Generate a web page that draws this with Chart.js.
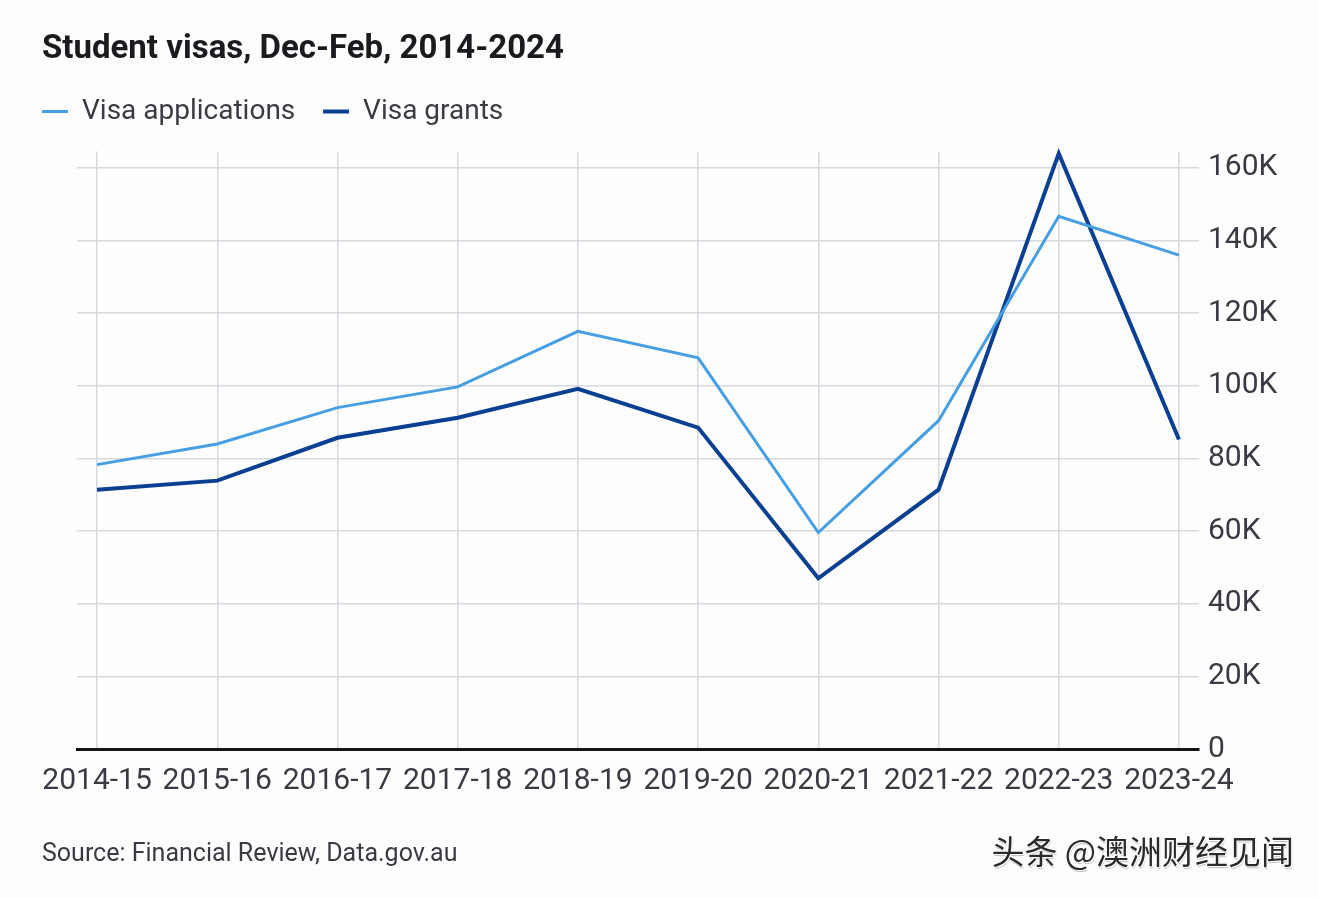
<!DOCTYPE html>
<html>
<head>
<meta charset="utf-8">
<script src="https://cdn.jsdelivr.net/npm/chart.js@4.4.1/dist/chart.umd.min.js"></script>
<style>
  html, body { margin: 0; padding: 0; background: #fdfdfe; }
  #wrap { position: relative; width: 1318px; height: 898px; }
  #mark {
    position: absolute; right: 24px; top: 826px;
    font-family: "Noto Sans CJK SC", sans-serif; font-size: 33px; color: #2a2a2a;
    text-shadow: 1px 1px 0 #fff, -1px -1px 0 #fff, 1px 2px 1px #bbb;
  }
</style>
</head>
<body>
<div id="wrap">
  <canvas id="visaChart" width="1318" height="898"></canvas>
  <div id="mark">头条 @澳洲财经见闻</div>
</div>
<script>
// data
const years = ['2014-15', '2015-16', '2016-17', '2017-18', '2018-19', '2019-20', '2020-21', '2021-22', '2022-23', '2023-24'];
const applications = [78300, 84000, 94000, 99700, 115000, 107700, 59600, 90400, 146700, 136000];
const grants = [71400, 73900, 85700, 91200, 99200, 88500, 47000, 71400, 164000, 85200];
const yTicks = [0, 20000, 40000, 60000, 80000, 100000, 120000, 140000, 160000];

const gridCol = '#d6d9df';
const textCol = '#3d3944';

const toPoints = arr => arr.map((v, i) => ({ x: i, y: v }));

// extra room under the legend
const legendGap = {
    id: 'legendGap',
    beforeInit(chart) {
        const fit = chart.legend.fit;
        chart.legend.fit = function () {
            fit.bind(chart.legend)();
            this.height += 16;
        };
    }
};

const ctx = document.getElementById('visaChart').getContext('2d');
new Chart(ctx, {
    type: 'line',
    data: {
        datasets: [{
            label: 'Visa applications',
            data: toPoints(applications),
            yAxisID: 'y',
            borderColor: '#479ee2',
            borderWidth: 3,
            pointRadius: 0,
            tension: 0,
            clip: false
        }, {
            label: 'Visa grants',
            data: toPoints(grants),
            yAxisID: 'y',
            borderColor: '#0b3f91',
            borderWidth: 4,
            pointRadius: 0,
            tension: 0,
            clip: false
        }]
    },
    plugins: [legendGap],
    options: {
        responsive: false,
        animation: false,
        devicePixelRatio: 1,
        layout: { padding: { left: 42, right: 0, top: 30, bottom: 28 } },
        plugins: {
            title: {
                display: true,
                text: 'Student visas, Dec-Feb, 2014-2024',
                align: 'start',
                color: '#1b1b1f',
                font: { family: 'Roboto', size: 33, weight: 'bold' },
                padding: { top: 0, bottom: 28 }
            },
            legend: {
                align: 'start',
                labels: {
                    usePointStyle: true,
                    pointStyle: 'line',
                    pointStyleWidth: 26,
                    padding: 0,
                    color: textCol,
                    font: { family: 'Roboto', size: 28 },
                    generateLabels: chart => {
                        const items = Chart.defaults.plugins.legend.labels.generateLabels(chart);
                        items.forEach((it, i) => { if (i < items.length - 1) it.text += '    '; });
                        return items;
                    }
                }
            },
            subtitle: {
                display: true,
                position: 'bottom',
                align: 'start',
                text: 'Source: Financial Review, Data.gov.au',
                color: textCol,
                font: { family: 'Roboto', size: 25 },
                padding: { top: 27, bottom: 0 }
            },
            tooltip: { enabled: false }
        },
        scales: {
            x: {
                type: 'linear',
                min: -1 / 6,
                max: 9 + 1 / 6,
                grid: { color: gridCol, lineWidth: 1.5, drawTicks: false },
                border: { display: true, color: '#141414', width: 3 },
                ticks: {
                    stepSize: 1,
                    includeBounds: false,
                    autoSkip: false,
                    maxRotation: 0,
                    padding: 14,
                    color: textCol,
                    font: { family: 'Roboto', size: 30 },
                    callback: v => years[v]
                }
            },
            // empty left axis, only keeps the plot area clear of the left margin
            pad: {
                type: 'linear',
                position: 'left',
                grid: { display: false },
                border: { display: false },
                ticks: { display: false },
                afterFit: scale => { scale.width = 35; }
            },
            y: {
                position: 'right',
                min: 0,
                max: 164500,
                grid: { color: gridCol, lineWidth: 1.5, drawTicks: false },
                border: { display: false },
                afterBuildTicks: scale => { scale.ticks = yTicks.map(v => ({ value: v })); },
                afterFit: scale => { scale.width = 119; },
                ticks: {
                    padding: 9,
                    color: textCol,
                    font: { family: 'Roboto', size: 30 },
                    callback: v => v === 0 ? '0' : (v / 1000) + 'K'
                }
            }
        }
    }
});
</script>
</body>
</html>
